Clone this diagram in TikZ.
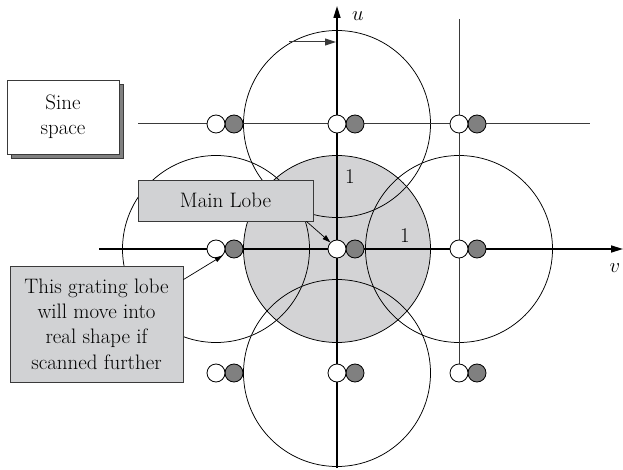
\documentclass[tikz,border=0pt]{standalone}
\usetikzlibrary{arrows.meta,calc}
\definecolor{boxfill}{HTML}{D1D2D4}
\definecolor{diskfill}{HTML}{D3D3D5}
\definecolor{lobegray}{HTML}{808080}
\definecolor{edgegray}{HTML}{3A3A3A}
\begin{document}
\begin{tikzpicture}[x=1bp,y=-1bp,
  txt/.style={font=\fontsize{21}{25.5}\selectfont},
  lobe/.style={circle,draw=black,line width=0.8bp,minimum size=18bp,inner sep=0pt},
  white lobe/.style={lobe,fill=white},
  grey lobe/.style={lobe,fill=lobegray},
  ring/.style={draw=black,line width=0.75bp},
  axis/.style={line width=1.6bp,-{Triangle[length=12bp,width=7bp]}},
  gridline/.style={draw=edgegray,line width=1bp},
  label box/.style={txt,draw=edgegray,fill=boxfill,line width=0.8bp,align=center,inner sep=0pt},
  pointer/.style={line width=0.7bp,-{Triangle[length=8bp,width=5bp]}}
]
\useasboundingbox (0,0) rectangle (623,470);

% lattice points (lobe positions) in sine space
\foreach \c/\x in {1/216,2/337,3/459}
  \foreach \r/\y in {1/124,2/249,3/373}
    \coordinate (p\c\r) at (\x,\y);

% visible region: shaded unit circle around the main lobe
\fill[diskfill] (p22) circle[radius=93.5];
\draw[ring] (p22) circle[radius=93.5];
\foreach \p in {p21,p12,p32,p23}
  \draw[ring] (\p) circle[radius=93.5];

% axes and lattice lines
\coordinate (ubot) at (337,468);
\coordinate (utop) at (337,6);
\coordinate (vleft) at (99,249);
\coordinate (vright) at (623,249);
\draw[axis] (ubot) -- (utop);
\draw[axis] (vleft) -- (vright);
\coordinate (ltop) at (459,19);
\coordinate (hleft) at (138,124);
\coordinate (hright) at (590,124);
\draw[gridline] (ltop) -- (p33);
\draw[gridline] (hleft) -- (hright);

% scan direction
\coordinate (scanstart) at (289,42);
\coordinate (scanend) at (336,42);
\draw[draw=edgegray,line width=1bp,-{Triangle[length=11bp,width=7bp]}] (scanstart) -- (scanend);

% lobe pairs at each lattice point
\foreach \c in {1,2,3}
  \foreach \r in {1,2,3} {
    \node[grey lobe] (g\c\r) at ($(p\c\r)+(18,0)$) {};
    \node[white lobe] (w\c\r) at (p\c\r) {};
  }

% axis labels and radii
\node[txt] (ulabel) at (358,16) {$u$};
\node[txt] (vlabel) at (615,268) {$v$};
\node[txt] (one1) at (350,177) {1};
\node[txt] (one2) at (405,236) {1};

% boxes
\fill[lobegray,draw=edgegray,line width=0.8bp] (11,84) rectangle (123,158);
\node[label box,fill=white,minimum width=112bp,minimum height=74bp] (sine) at (63,117) {Sine\\space};
\node[label box,minimum width=175bp,minimum height=41bp] (mainlobe) at (225.5,200.5) {Main Lobe};
\node[label box,minimum width=173bp,minimum height=116bp] (grating) at (96.5,324)
  {This grating lobe\\will move into\\real shape if\\scanned further};

\draw[pointer] ([xshift=-7bp]mainlobe.south east) -- (w22.north west);
\draw[pointer] ([yshift=-14bp]grating.north east) -- (w12.south east);
\end{tikzpicture}
\end{document}
